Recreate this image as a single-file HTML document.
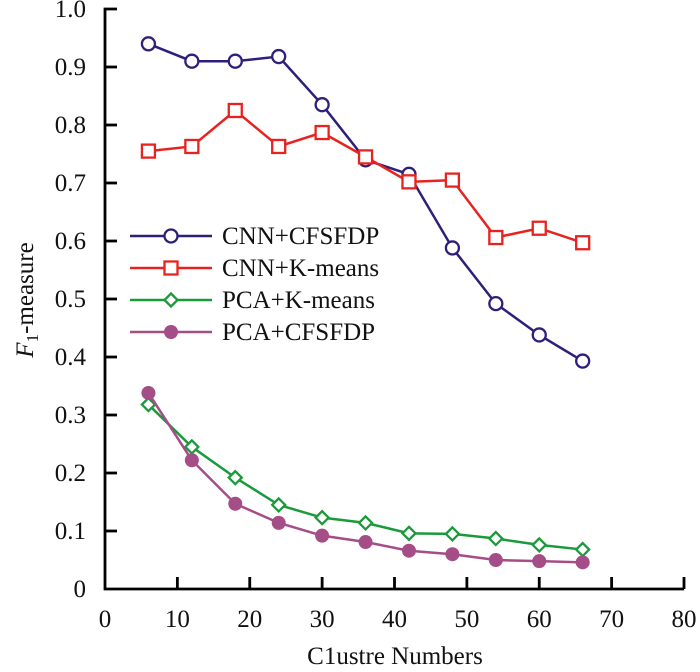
<!DOCTYPE html>
<html><head><meta charset="utf-8"><style>
body{margin:0;background:#fff}
svg text{font-family:"Liberation Serif",serif;fill:#111}
</style></head><body>
<svg id="c" width="700" height="667"></svg>
<script>
const xs=[6,12,18,24,30,36,42,48,54,60,66];
const cnnCfs=[0.94,0.91,0.91,0.918,0.835,0.74,0.715,0.588,0.492,0.438,0.393];
const cnnKm=[0.755,0.763,0.825,0.763,0.787,0.745,0.702,0.705,0.606,0.622,0.597];
const pcaKm=[0.318,0.245,0.192,0.145,0.123,0.114,0.096,0.095,0.087,0.076,0.068];
const pcaCfs=[0.338,0.222,0.147,0.114,0.092,0.081,0.066,0.06,0.05,0.048,0.046];
const xTicks=[0,10,20,30,40,50,60,70,80];
const yTicks=[0,0.1,0.2,0.3,0.4,0.5,0.6,0.7,0.8,0.9,1.0];
const X=v=>105+v*(684-105)/80, Y=v=>589-v*580;
const s=document.getElementById('c'),NS='http://www.w3.org/2000/svg';
function el(t,a,p){const e=document.createElementNS(NS,t);for(const k in a)e.setAttribute(k,a[k]);(p||s).appendChild(e);return e;}
let ax=el('path',{d:`M${X(80)} ${Y(0)}H${X(0)}V${Y(1)}H${X(0)+12}`,fill:'none',stroke:'#000','stroke-width':2.8});


xTicks.forEach(t=>{
 if(t>0){const l=el('line',{x1:X(t),x2:X(t),y1:Y(0),y2:Y(0)-12,stroke:'#000','stroke-width':2.8});
 
 }
 const tx=el('text',{x:X(t),y:627,'text-anchor':'middle','font-size':25});tx.textContent=t;
 
 
});
yTicks.forEach(t=>{
 if(t>0&&t<1){const l=el('line',{x1:X(0),x2:X(0)+12,y1:Y(t),y2:Y(t),stroke:'#000','stroke-width':2.8});
 
 }
 const tx=el('text',{x:86,y:Y(t)+8,'text-anchor':'end','font-size':25});tx.textContent=t===0?'0':t.toFixed(1);
 
 
});
let xt=el('text',{x:395,y:664,'text-anchor':'middle','font-size':25});xt.textContent='C1ustre Numbers';


let yt=el('text',{transform:'translate(33,300) rotate(-90)','text-anchor':'middle','font-size':25});
yt.innerHTML='<tspan font-style="italic">F</tspan><tspan font-size="17" dy="5">1</tspan><tspan dy="-5">-measure</tspan>';


function marker(g,type,c,x,y){
 if(type==='o')el('circle',{cx:x,cy:y,r:6.5,fill:'#fff',stroke:c,'stroke-width':2.3},g);
 else if(type==='s')el('rect',{x:x-6.5,y:y-6.5,width:13,height:13,fill:'#fff',stroke:c,'stroke-width':2.3},g);
 else if(type==='d')el('path',{d:`M${x} ${y-6.5}L${x+6.5} ${y}L${x} ${y+6.5}L${x-6.5} ${y}Z`,fill:'#fff',stroke:c,'stroke-width':2.3},g);
 else el('circle',{cx:x,cy:y,r:7,fill:c},g);
}
const series=[['cnn-cfsfdp',cnnCfs,'#2e1f7a','o','CNN+CFSFDP'],['cnn-kmeans',cnnKm,'#e8231f','s','CNN+K-means'],['pca-kmeans',pcaKm,'#1a9a3a','d','PCA+K-means'],['pca-cfsfdp',pcaCfs,'#a44d86','f','PCA+CFSFDP']];
series.forEach((sr,i)=>{
 const g=el('g',{});
 
 
 el('polyline',{points:xs.map((x,j)=>X(x)+','+Y(sr[1][j])).join(' '),fill:'none',stroke:sr[2],'stroke-width':2.5},g);
 xs.forEach((x,j)=>marker(g,sr[3],sr[2],X(x),Y(sr[1][j])));
 const lg=el('g',{});
 
 
 const ly=236+i*32;
 el('line',{x1:130,x2:212,y1:ly,y2:ly,stroke:sr[2],'stroke-width':2.5},lg);
 marker(lg,sr[3],sr[2],171,ly);
 const t=el('text',{x:222,y:ly+8,'font-size':25},lg);t.textContent=sr[4];
});
</script>
</body></html>
